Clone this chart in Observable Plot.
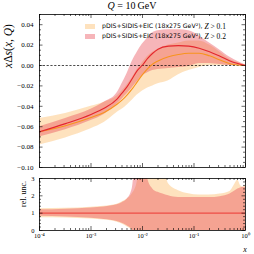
<!DOCTYPE html>
<html><head><meta charset="utf-8">
<script src="https://cdn.jsdelivr.net/npm/d3@7"></script>
<script src="https://cdn.jsdelivr.net/npm/@observablehq/plot@0.6"></script>
<style>
body{margin:0;background:#fff;}
#wrap{position:relative;width:254px;height:254px;overflow:hidden;}
#wrap svg{position:absolute;left:0;}
.t{position:absolute;white-space:nowrap;font-family:"Liberation Serif",serif;color:#000;line-height:1;}
.lg{position:absolute;white-space:nowrap;font-family:"DejaVu Sans",sans-serif;font-size:6.2px;line-height:1;display:flex;align-items:center;}
.sw{display:inline-block;width:10px;height:4.6px;margin-right:7px;}
.m{font-family:"Liberation Serif",serif;font-size:7.5px;white-space:pre;}
</style></head><body><div id="wrap"></div>
<script>
// ---- top panel data: x Δs(x,Q) ----
const xGrid = [1e-4, 3.2e-4, 1e-3, 1.8e-3, 3.2e-3, 4e-3, 5e-3, 6.3e-3, 7.9e-3, 1e-2, 1.26e-2, 1.58e-2, 2e-2, 3.2e-2, 5e-2, 7.9e-2, 0.126, 0.2, 0.32, 0.5, 0.71, 1];
const redCentral = [-0.065,-0.057,-0.048,-0.042,-0.033,-0.027,-0.021,-0.013,-0.005,0.0005,0.007,0.012,0.016,0.019,0.0195,0.019,0.017,0.0135,0.009,0.0045,0.002,0];
const redLow     = [-0.070,-0.063,-0.054,-0.048,-0.038,-0.033,-0.028,-0.022,-0.016,-0.010,-0.007,-0.005,-0.004,-0.003,-0.002,-0.001,0.002,0.002,0.001,0,0,0];
const redHigh    = [-0.060,-0.052,-0.043,-0.036,-0.027,-0.018,-0.008,0.004,0.013,0.021,0.027,0.032,0.034,0.035,0.035,0.034,0.029,0.022,0.015,0.008,0.004,0.0005];
const orangeCentral = [-0.065,-0.059,-0.051,-0.046,-0.038,-0.034,-0.029,-0.023,-0.016,-0.009,-0.003,0.0015,0.0045,0.0085,0.0108,0.012,0.012,0.0095,0.0055,0.0018,0.0005,0];
const orangeLow  = [-0.078,-0.071,-0.062,-0.056,-0.046,-0.043,-0.039,-0.034,-0.029,-0.025,-0.022,-0.020,-0.018,-0.015,-0.009,-0.005,-0.002,0,0,0,0,0];
const orangeHigh = [-0.052,-0.047,-0.040,-0.036,-0.030,-0.025,-0.019,-0.012,-0.004,0.003,0.009,0.013,0.016,0.020,0.022,0.024,0.024,0.020,0.013,0.006,0.003,0.0005];

// ---- bottom panel data: relative uncertainty ----
const relX = [1e-4, 3.2e-4, 1e-3, 1.8e-3, 3.2e-3, 4e-3, 5e-3, 6.3e-3, 7.9e-3, 1e-2, 1.26e-2, 1.58e-2, 2e-2, 2.5e-2, 3.2e-2, 5e-2, 7.9e-2, 0.126, 0.2, 0.32, 0.5, 0.6, 0.71, 0.8, 0.9, 1];
const redRelLow  = [0.82,0.78,0.70,0.64,0.52,0.42,0.28,0.05,-0.5,-0.5,-0.5,-0.5,-0.5,-0.5,-0.5,-0.5,-0.5,-0.5,-0.5,-0.5,-0.5,-0.5,-0.5,-0.5,-0.5,-0.5];
const redRelHigh = [1.19,1.23,1.30,1.36,1.48,1.60,1.80,2.40,5,5,3.0,2.4,2.2,2.1,2.0,1.9,1.9,1.9,1.9,1.95,2.1,2.25,2.4,2.45,2.5,2.5];
const orangeRelLow  = [0.74,0.72,0.66,0.60,0.48,0.38,0.22,0,-0.5,-0.5,-0.5,-0.5,-0.5,-0.5,-0.5,-0.5,-0.5,-0.5,-0.5,-0.5,-0.5,-0.5,-0.5,-0.5,-0.5,-0.5];
const orangeRelHigh = [1.26,1.28,1.34,1.40,1.52,1.65,1.80,2.10,2.8,5,5,5,5,4,2.7,2.3,2.12,2.05,2.05,2.1,2.25,2.6,2.9,2.6,2.5,2.6];

// ---- ticks / labels ----
const xMajor = [1e-4, 1e-3, 1e-2, 1e-1, 1];
const xMajorLabels = ["10⁻⁴", "10⁻³", "10⁻²", "10⁻¹", "10⁰"];
const yMajorTop = [-0.10, -0.08, -0.06, -0.04, -0.02, 0.00, 0.02, 0.04];
const yMajorRel = [0, 1, 2, 3];
const legendLabels = ["pDIS+SIDIS+EIC (18x275 GeV²),", "pDIS+SIDIS+EIC (18x275 GeV²),"];
const legendCuts = ["0.1", "0.2"];

const orangeFill = "#fdbf6f", redFill = "#e8474f";
const orangeLine = "#f7941d", redLine = "#e4262e";

const topRows = xGrid.map((x, i) => ({x, rC: redCentral[i], rLo: redLow[i], rHi: redHigh[i], oC: orangeCentral[i], oLo: orangeLow[i], oHi: orangeHigh[i]}));
const relRows = relX.map((x, i) => ({x, rLo: redRelLow[i], rHi: redRelHigh[i], oLo: orangeRelLow[i], oHi: orangeRelHigh[i]}));

const W = 254, ML = 39, MR = 9;
const innerW = W - ML - MR;
const xMinor = d3.scaleLog().domain([1e-4, 1]).ticks().filter(v => !xMajor.some(m => Math.abs(m - v) / m < 1e-9));

function tickMarks(innerH, yMajor, yMinor) {
  const s = {stroke: "#000", strokeWidth: 0.6};
  return [
    Plot.tickX(xMajor, {x: d => d, insetTop: innerH - 4, ...s}),
    Plot.tickX(xMajor, {x: d => d, insetBottom: innerH - 4, ...s}),
    Plot.tickX(xMinor, {x: d => d, insetTop: innerH - 2, ...s}),
    Plot.tickX(xMinor, {x: d => d, insetBottom: innerH - 2, ...s}),
    Plot.tickY(yMajor, {y: d => d, insetRight: innerW - 3.5, ...s}),
    Plot.tickY(yMajor, {y: d => d, insetLeft: innerW - 3.5, ...s}),
    Plot.tickY(yMinor, {y: d => d, insetRight: innerW - 2, ...s}),
    Plot.tickY(yMinor, {y: d => d, insetLeft: innerW - 2, ...s})
  ];
}

const topH = 176, topMT = 14, topMB = 9;
const yMinorTop = d3.range(-100, 51, 5).map(v => v / 1000).filter(v => !yMajorTop.some(m => Math.abs(m - v) < 1e-9));
const curve = "monotone-x";
const topPlot = Plot.plot({
  width: W, height: topH, marginLeft: ML, marginRight: MR, marginTop: topMT, marginBottom: topMB,
  x: {type: "log", domain: [1e-4, 1], axis: null},
  y: {domain: [-0.10, 0.05]},
  style: {background: "transparent", fontFamily: "Liberation Serif, serif", fontSize: "7px", color: "#000"},
  marks: [
    Plot.areaY(topRows, {x: "x", y1: "oLo", y2: "oHi", fill: orangeFill, fillOpacity: 0.45, curve}),
    Plot.areaY(topRows, {x: "x", y1: "rLo", y2: "rHi", fill: redFill, fillOpacity: 0.4, curve}),
    Plot.ruleY([0], {stroke: "#000", strokeWidth: 0.7, strokeDasharray: "2.2,1.6"}),
    Plot.lineY(topRows, {x: "x", y: "oC", stroke: orangeLine, strokeWidth: 1.1, curve}),
    Plot.lineY(topRows, {x: "x", y: "rC", stroke: redLine, strokeWidth: 1.1, curve}),
    Plot.frame({stroke: "#000", strokeWidth: 0.8}),
    ...tickMarks(topH - topMT - topMB, yMajorTop, yMinorTop),
    Plot.axisY(yMajorTop, {anchor: "left", tickSize: 0, tickPadding: 6, tickFormat: d3.format(".2f"), label: null})
  ]
});
topPlot.style.top = "0px";

const botH = 84, botMT = 8, botMB = 24;
const yMinorRel = d3.range(0, 31, 2).map(v => v / 10).filter(v => !yMajorRel.some(m => Math.abs(m - v) < 1e-9));
const botPlot = Plot.plot({
  width: W, height: botH, marginLeft: ML, marginRight: MR, marginTop: botMT, marginBottom: botMB,
  x: {type: "log", domain: [1e-4, 1]},
  y: {domain: [0, 3]},
  style: {background: "transparent", fontFamily: "Liberation Serif, serif", fontSize: "6.5px", color: "#000"},
  marks: [
    Plot.areaY(relRows, {x: "x", y1: "oLo", y2: "oHi", fill: orangeFill, fillOpacity: 0.45, curve, clip: true}),
    Plot.areaY(relRows, {x: "x", y1: "rLo", y2: "rHi", fill: redFill, fillOpacity: 0.4, curve, clip: true}),
    Plot.ruleY([1], {stroke: "#ee4c45", strokeWidth: 1.2}),
    Plot.frame({stroke: "#000", strokeWidth: 0.8}),
    ...tickMarks(botH - botMT - botMB, yMajorRel, yMinorRel),
    Plot.axisY(yMajorRel, {anchor: "left", tickSize: 0, tickPadding: 5, label: null}),
    Plot.axisX(xMajor, {anchor: "bottom", tickSize: 0, tickPadding: 3, label: null,
      tickFormat: d => xMajorLabels[xMajor.findIndex(m => Math.abs(m - d) / m < 1e-9)]})
  ]
});
botPlot.style.top = "170px";

const wrap = document.getElementById("wrap");
wrap.append(topPlot, botPlot);

function addText(html, css) {
  const d = document.createElement("div");
  d.className = "t";
  d.innerHTML = html;
  Object.assign(d.style, css);
  wrap.append(d);
  return d;
}
addText('<i>Q</i> = 10&#8201;GeV', {left: "132px", top: "6px", fontSize: "10px", transform: "translate(-50%,-50%)"});
addText('<i>x</i>Δ<i>s</i>(<i>x</i>, <i>Q</i>)', {left: "9px", top: "46px", fontSize: "11.5px", transform: "translate(-50%,-50%) rotate(-90deg)"});
addText('rel. unc.', {left: "24px", top: "194px", fontSize: "8px", transform: "translate(-50%,-50%) rotate(-90deg)"});
addText('<i>x</i>', {left: "245px", top: "250px", fontSize: "8px", transform: "translate(-50%,-50%)"});

const fills = [[orangeFill, 0.45], [redFill, 0.4]];
legendLabels.forEach((lab, i) => {
  const d = document.createElement("div");
  d.className = "lg";
  d.style.left = "85px";
  d.style.top = (22.5 + i * 10) + "px";
  d.innerHTML = `<span class="sw" style="background:${fills[i][0]};opacity:${fills[i][1]}"></span>${lab}<span class="m"> <i>Z</i> &gt; ${legendCuts[i]}</span>`;
  wrap.append(d);
});
</script>
</body></html>
